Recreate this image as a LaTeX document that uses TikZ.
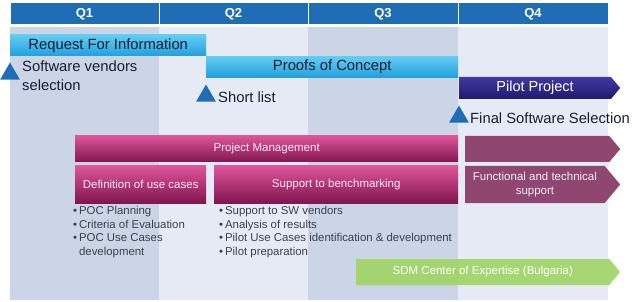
\documentclass[tikz,border=0pt]{standalone}
\usepackage{fontspec}
\setmainfont{Liberation Sans}
\usetikzlibrary{shapes.geometric,shapes.symbols}

\definecolor{hdrblue}{RGB}{31,110,181}
\definecolor{coldark}{RGB}{203,213,230}
\definecolor{collight}{RGB}{229,234,244}
\definecolor{cyantop}{RGB}{100,204,242}
\definecolor{cyanbot}{RGB}{32,160,222}
\definecolor{indtop}{RGB}{66,58,160}
\definecolor{indbot}{RGB}{30,26,110}
\definecolor{magtop}{RGB}{222,84,154}
\definecolor{magbot}{RGB}{128,22,80}
\definecolor{mauve}{RGB}{143,70,113}
\definecolor{sdmgreen}{RGB}{160,212,100}
\definecolor{darktext}{RGB}{25,30,45}

\tikzset{
  hdr/.style={fill=hdrblue,draw=white,line width=1pt,text=white,
    font=\fontsize{13}{15}\selectfont\bfseries,minimum height=22pt,inner sep=0pt},
  bar/.style={anchor=west,inner sep=0pt,minimum height=21pt},
  cyanbar/.style={bar,top color=cyantop,bottom color=cyanbot,text=darktext,
    font=\fontsize{14.8}{17}\selectfont},
  magbar/.style={bar,top color=magtop,bottom color=magbot,text=white!88!magtop,
    font=\fontsize{11.5}{14}\selectfont},
  arrowbar/.style={bar,shape=signal,signal to=east,signal pointer angle=100},
  milestone/.style={regular polygon,regular polygon sides=3,fill=hdrblue,
    minimum size=23pt,inner sep=0pt},
  mtext/.style={anchor=north west,align=left,text=darktext,inner sep=0pt,
    font=\fontsize{14.8}{19}\selectfont},
  bullets/.style={anchor=north west,align=left,text=darktext!85!white,inner sep=0pt,
    font=\fontsize{11.4}{13.7}\selectfont}
}

\begin{document}
\begin{tikzpicture}[x=1pt,y=-1pt]
  \useasboundingbox (0,0) rectangle (640,302);
  % quarter columns
  \fill[coldark] (10,27) rectangle (159,300);
  \fill[collight] (159,27) rectangle (308,300);
  \fill[coldark] (308,27) rectangle (458,300);
  \fill[collight] (458,27) rectangle (608,300);

  \node[hdr,minimum width=149pt] (Q1) at (84.5,14) {Q1};
  \node[hdr,minimum width=149pt] (Q2) at (233.5,14) {Q2};
  \node[hdr,minimum width=150pt] (Q3) at (383,14) {Q3};
  \node[hdr,minimum width=150pt] (Q4) at (533,14) {Q4};

  \node[cyanbar,minimum width=196pt] (rfi) at (10,45.5) {Request For Information};
  \node[cyanbar,minimum width=252pt] (poc) at (206,67) {Proofs of Concept};
  \node[arrowbar,top color=indtop,bottom color=indbot,text=white,minimum width=161pt,
    minimum height=22pt,font=\fontsize{14.5}{16}\selectfont] (pilot) at (459,88) {Pilot Project};

  \node[milestone] (m1) at (10,74) {};
  \node[mtext] (svs) at (22,61) {Software vendors\\selection};
  \node[milestone] (m2) at (206,96) {};
  \node[mtext] (sl) at (218,92) {Short list};
  \node[milestone] (m3) at (459,117) {};
  \node[mtext] (fss) at (470,113) {Final Software Selection};

  \node[magbar,minimum width=383pt,minimum height=26pt] (pm) at (75,149) {Project Management};
  \node[arrowbar,fill=mauve,minimum width=155pt,minimum height=26pt] (pm2) at (465,149) {};
  \node[magbar,minimum width=131pt,minimum height=37pt] (def) at (75,184.5) {Definition of use cases};
  \node[magbar,minimum width=244pt,minimum height=37pt] (sup) at (214,184.5) {Support to benchmarking};
  \node[arrowbar,fill=mauve,text=white!90!mauve,align=center,minimum width=155pt,
    minimum height=37pt,font=\fontsize{11.5}{14}\selectfont] (fun) at (465,184.5)
    {Functional and technical\\support};

  \node[bullets] (l1) at (73,206) {\textbullet\,POC Planning\\\textbullet\,Criteria of Evaluation\\
    \textbullet\,POC Use Cases\\\phantom{\textbullet\,}development};
  \node[bullets] (l2) at (219,206) {\textbullet\,Support to SW vendors\\\textbullet\,Analysis of results\\
    \textbullet\,Pilot Use Cases identification \& development\\\textbullet\,Pilot preparation};

  \node[arrowbar,fill=sdmgreen,fill opacity=0.9,text opacity=1,text=white,minimum width=264pt,
    minimum height=26pt,font=\fontsize{11.5}{14}\selectfont] (sdm) at (356,272)
    {SDM Center of Expertise (Bulgaria)};
\end{tikzpicture}
\end{document}
